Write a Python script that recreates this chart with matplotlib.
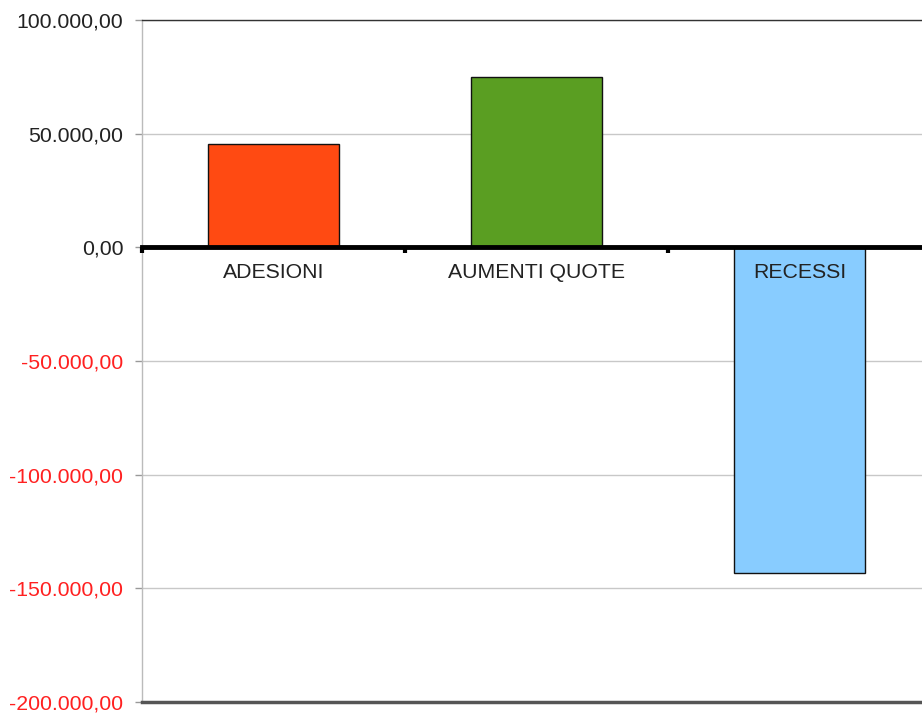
import matplotlib
matplotlib.use("Agg")
import matplotlib.pyplot as plt
import numpy as np

categories = ["ADESIONI", "AUMENTI QUOTE", "RECESSI"]
values = [45400, 74900, -143200]
bar_colors = ["#FF4A12", "#5A9E22", "#88CCFF"]
y_ticks = [-200000, -150000, -100000, -50000, 0, 50000, 100000]

def it_fmt(v):
    s = f"{abs(v):,.2f}".replace(",", "X").replace(".", ",").replace("X", ".")
    return ("-" if v < 0 else "") + s

plt.rcParams["font.family"] = ["Liberation Sans", "DejaVu Sans"]

fig = plt.figure(figsize=(9.22, 7.13), dpi=100)
ax = fig.add_axes([142/922, 11/713, 789/922, 682/713])

x = np.arange(len(categories))
ax.bar(x, values, width=0.5, color=bar_colors, edgecolor="#111111", linewidth=1, zorder=2)

ax.set_xlim(-0.5, len(categories) - 0.5)
ax.set_ylim(y_ticks[0], y_ticks[-1])

ax.set_yticks(y_ticks, labels=[it_fmt(t) for t in y_ticks])
for lab, t in zip(ax.get_yticklabels(), y_ticks):
    lab.set_color("#FF2020" if t < 0 else "#222222")
ax.tick_params(axis="y", length=5, width=1, color="#999999", pad=8.5, labelsize=15.3)
ax.yaxis.grid(True, color="#C8C8C8", linewidth=1)
ax.set_axisbelow(True)
ax.xaxis.set_zorder(4)

# x axis at zero
ax.spines["bottom"].set_position(("data", 0))
ax.spines["bottom"].set_linewidth(3.5)
ax.spines["bottom"].set_color("black")
ax.spines["bottom"].set_zorder(3)
ax.set_xticks(np.arange(-0.5, len(categories) + 0.5, 1.0))
ax.set_xticklabels([])
ax.tick_params(axis="x", which="major", length=4, width=3, color="black", direction="out")
ax.set_xticks(x, minor=True)
ax.set_xticklabels(categories, minor=True)
ax.tick_params(axis="x", which="minor", length=0, pad=11.5, labelsize=15.3, labelcolor="#222222")

ax.spines["left"].set_color("#BBBBBB")
ax.spines["left"].set_linewidth(1)
ax.spines["top"].set_color("#333333")
ax.spines["top"].set_linewidth(1)
ax.spines["right"].set_visible(False)
ax.axhline(y_ticks[0], color="#555555", linewidth=2.5, clip_on=False, zorder=3)

fig.savefig("out.png", dpi=100)
